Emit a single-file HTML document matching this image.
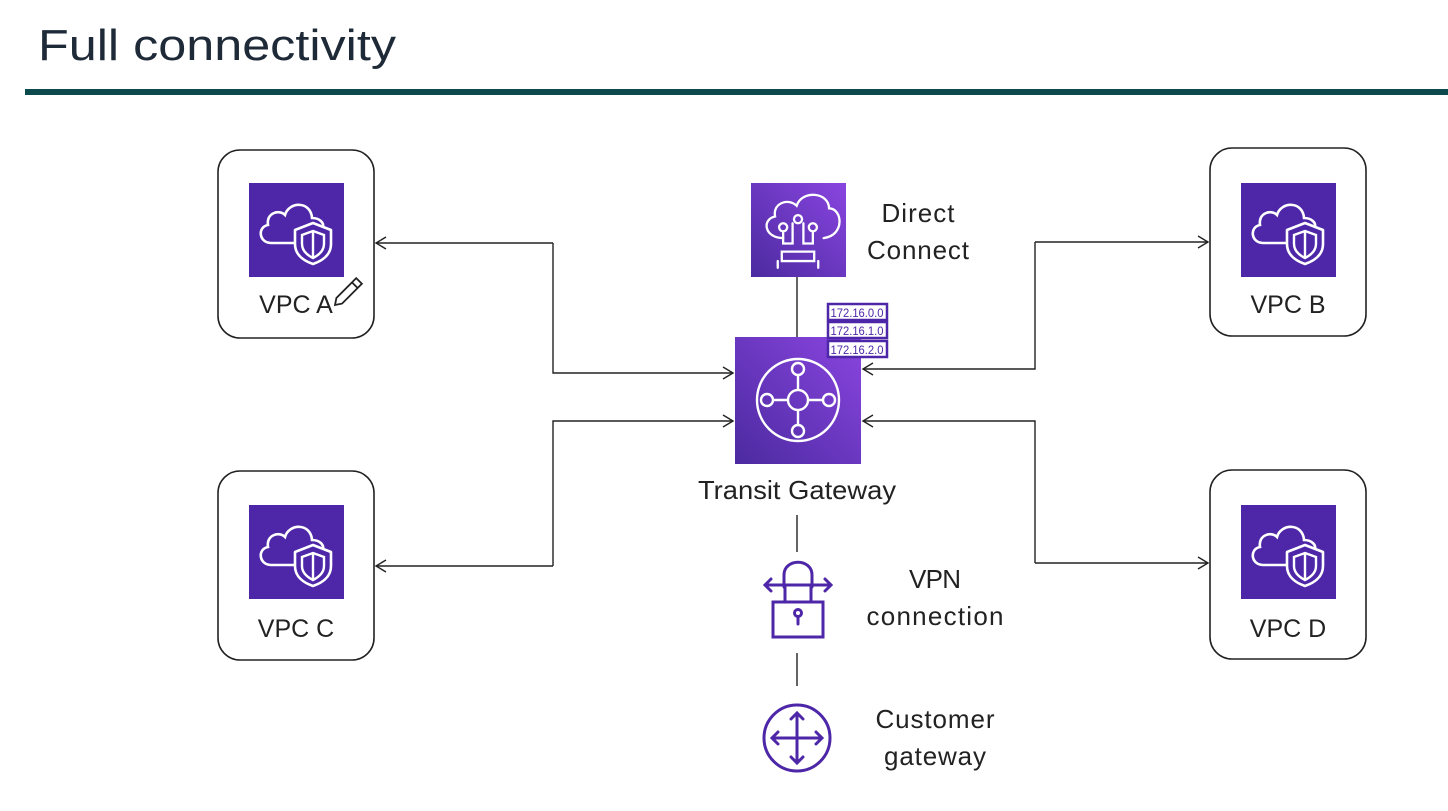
<!DOCTYPE html>
<html><head><meta charset="utf-8"><style>
html,body{margin:0;padding:0;background:#fff;}
svg{display:block;font-family:"Liberation Sans",sans-serif;}
</style></head><body>
<svg width="1448" height="811" viewBox="0 0 1448 811" xmlns="http://www.w3.org/2000/svg">
<defs>
<linearGradient id="pg" x1="0" y1="1" x2="1" y2="0">
<stop offset="0" stop-color="#4b2aa0"/><stop offset="1" stop-color="#8a45e0"/></linearGradient>
<g id="vpc">
<rect x="0" y="0" width="95" height="94" fill="#4d27a8"/>
<path d="M22 60 H50 M22 60 C10 60 8 44 19 42 C17 30 30 26 36 32 C40 18 62 18 63 35 C71 35 75 40 74 44" fill="none" stroke="#fff" stroke-width="2.6" stroke-linecap="round"/>
<path d="M64 40 L82 47 V61 C82 72 73 78 64 81 C55 78 46 72 46 61 V47 Z" fill="#4d27a8" stroke="#fff" stroke-width="2.6" stroke-linejoin="round"/>
<path d="M64 48 L75 52 V61 C75 68 70 72 64 75 C58 72 53 68 53 61 V52 Z M64 48 V75" fill="none" stroke="#fff" stroke-width="2.4"/>
</g>
<marker id="ah" markerWidth="14" markerHeight="14" refX="12" refY="7" orient="auto" markerUnits="userSpaceOnUse">
<path d="M2 1 L12 7 L2 13" fill="none" stroke="#222" stroke-width="1.4"/></marker>
</defs>

<text x="38" y="60" font-size="44" fill="#1f2a38" textLength="358" lengthAdjust="spacingAndGlyphs">Full connectivity</text>
<rect x="25" y="89" width="1423" height="6" fill="#0d4a4e"/>

<g fill="#fff" stroke="#222" stroke-width="1.6">
<rect x="218" y="150" width="156" height="188" rx="22"/>
<rect x="218" y="471" width="156" height="189" rx="22"/>
<rect x="1210" y="148" width="156" height="188" rx="22"/>
<rect x="1210" y="470" width="156" height="189" rx="22"/>
</g>
<use href="#vpc" x="249" y="183"/>
<use href="#vpc" x="249" y="505"/>
<use href="#vpc" x="1241" y="183"/>
<use href="#vpc" x="1241" y="505"/>
<g font-size="25" fill="#222" text-anchor="middle">
<text x="296" y="313">VPC A</text>
<text x="296" y="637">VPC C</text>
<text x="1288" y="313">VPC B</text>
<text x="1288" y="637">VPC D</text>
</g>
<g transform="translate(335,305) rotate(-45)" fill="#fff" stroke="#222" stroke-width="1.8">
<path d="M0 0 L6 -4 H34 V4 H6 Z"/><path d="M28 -4 V4"/></g>

<g fill="none" stroke="#222" stroke-width="1.4">
<path d="M553 243 H376" marker-end="url(#ah)"/>
<path d="M553 243 V373 H733" marker-end="url(#ah)"/>
<path d="M553 566 H376" marker-end="url(#ah)"/>
<path d="M553 566 V421 H733" marker-end="url(#ah)"/>
<path d="M1035 242 H1208" marker-end="url(#ah)"/>
<path d="M1035 242 V369 H863" marker-end="url(#ah)"/>
<path d="M1035 563 H1208" marker-end="url(#ah)"/>
<path d="M1035 563 V421 H863" marker-end="url(#ah)"/>
<path d="M797 277 V337 M797 515 V552 M797 653 V686"/>
</g>

<rect x="751" y="183" width="95" height="94" fill="url(#pg)"/>
<g transform="translate(798,230) scale(1.35) translate(-797,-230)" fill="none" stroke="#fff" stroke-width="1.7" stroke-linecap="round">
<path d="M786 236 C772 236 770 222 780 220 C778 210 790 206 796 212 C800 200 820 202 820 214 C830 214 832 234 816 236"/>
<circle cx="786" cy="228" r="3"/><circle cx="808" cy="228" r="3"/><circle cx="797" cy="222" r="3"/>
<path d="M786 231 V240 H793 V225 M801 225 V240 H808 V231"/>
<path d="M785 246 H809 V253 H785 Z M782 253 V258 M812 253 V258"/>
</g>
<g font-size="26" fill="#222" text-anchor="middle" lengthAdjust="spacingAndGlyphs">
<text x="918" y="222" textLength="73">Direct</text><text x="918" y="259" textLength="102">Connect</text>
</g>

<rect x="735" y="337" width="126" height="127" fill="url(#pg)"/>
<g fill="none" stroke="#fff" stroke-width="2.4">
<circle cx="798" cy="400" r="41"/>
<circle cx="798" cy="400" r="10"/>
<circle cx="798" cy="369" r="6"/><circle cx="798" cy="431" r="6"/>
<circle cx="767" cy="400" r="6"/><circle cx="829" cy="400" r="6"/>
<path d="M798 375 V390 M798 410 V425 M773 400 H788 M808 400 H823"/>
</g>
<text x="797" y="499" font-size="26" fill="#222" text-anchor="middle" textLength="198" lengthAdjust="spacingAndGlyphs">Transit Gateway</text>

<g font-size="12" fill="#4d27a8" text-anchor="middle">
<rect x="828" y="304" width="59" height="16" fill="#fff" stroke="#4d27a8" stroke-width="2.5"/>
<rect x="828" y="322" width="59" height="16" fill="#fff" stroke="#4d27a8" stroke-width="2.5"/>
<rect x="828" y="341" width="59" height="16" fill="#fff" stroke="#4d27a8" stroke-width="2.5"/>
<text x="857" y="317" textLength="53" lengthAdjust="spacingAndGlyphs">172.16.0.0</text>
<text x="857" y="335" textLength="53" lengthAdjust="spacingAndGlyphs">172.16.1.0</text>
<text x="857" y="354" textLength="53" lengthAdjust="spacingAndGlyphs">172.16.2.0</text>
</g>

<g fill="none" stroke="#4d27a8" stroke-width="3" stroke-linecap="round">
<path d="M784 587 V575 C784 558 812 558 812 575 V587"/>
<rect x="773" y="602" width="50" height="35"/>
<path d="M765 585 H831 M771 579 L765 585 L771 591 M825 579 L831 585 L825 591"/>
<path d="M785 587 V602 M811 587 V602"/>
<circle cx="798" cy="613" r="3.5"/><path d="M798 617 V624"/>
</g>
<g font-size="26" fill="#222" text-anchor="middle" lengthAdjust="spacingAndGlyphs">
<text x="935" y="588" textLength="52">VPN</text><text x="935" y="625" textLength="137">connection</text>
</g>

<g fill="none" stroke="#4d27a8" stroke-width="3" stroke-linecap="round">
<circle cx="797" cy="738" r="33"/>
<path d="M797 713 V763 M772 738 H822 M791 719 L797 713 L803 719 M791 757 L797 763 L803 757 M778 732 L772 738 L778 744 M816 732 L822 738 L816 744"/>
</g>
<g font-size="26" fill="#222" text-anchor="middle" lengthAdjust="spacingAndGlyphs">
<text x="935" y="728" textLength="119">Customer</text><text x="935" y="765" textLength="102">gateway</text>
</g>
</svg>
</body></html>
